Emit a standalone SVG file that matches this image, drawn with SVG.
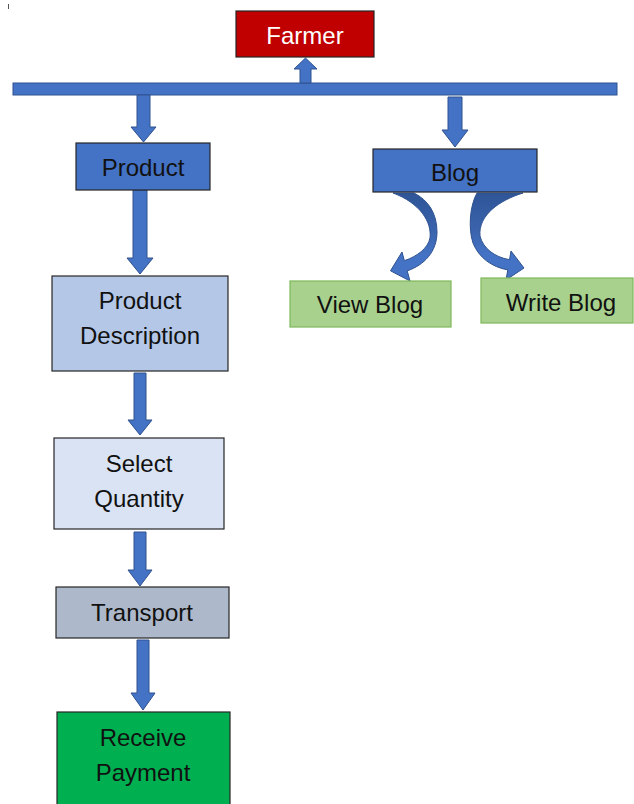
<svg xmlns="http://www.w3.org/2000/svg" width="634" height="804" viewBox="0 0 634 804">
  <style>
    .box { stroke: #262626; stroke-width: 1.2; }
    .leaf { stroke: #7FB85A; stroke-width: 1.2; }
    .lbl { font-family: "Liberation Sans", Arial, sans-serif; font-size: 24px; fill: #111; text-anchor: middle; dominant-baseline: central; }
    .arrow { fill: #4472C4; stroke: #2F528F; stroke-width: 1; }
  </style>
  <defs>
    <linearGradient id="ribbon" x1="0" y1="0" x2="0" y2="1">
      <stop offset="0" stop-color="#2F5597"/>
      <stop offset="0.45" stop-color="#3A64AE"/>
      <stop offset="0.7" stop-color="#4472C4"/>
      <stop offset="1" stop-color="#4472C4"/>
    </linearGradient>
  </defs>

  <rect width="634" height="804" fill="#fff"/>
  <rect x="8" y="4" width="1" height="5" fill="#555"/>

  <!-- connectors -->
  <g id="connectors">
    <!-- bus bar -->
    <rect class="arrow" x="13" y="83" width="604" height="12"/>
    <!-- bar up to Farmer -->
    <path class="arrow" d="M300,83 V69 H294 L305.5,58 L317,69 H311 V83 Z"/>
    <!-- bar down to Product -->
    <path class="arrow" d="M137,95 V127 H131 L143.5,142 L156,127 H150 V95 Z"/>
    <!-- bar down to Blog -->
    <path class="arrow" d="M448,97 V130 H442 L455,147 L468,130 H462 V97 Z"/>
    <!-- Product to Product Description -->
    <path class="arrow" d="M133,190 V258 H127 L140,274 L153,258 H147 V190 Z"/>
    <!-- Product Description to Select Quantity -->
    <path class="arrow" d="M134,373 V420 H128 L140,435 L152,420 H146 V373 Z"/>
    <!-- Select Quantity to Transport -->
    <path class="arrow" d="M134,532 V570 H128 L140,586 L152,570 H146 V532 Z"/>
    <!-- Transport to Receive Payment -->
    <path class="arrow" d="M137,640 V693 H131 L143,710 L155,693 H149 V640 Z"/>
    <!-- Blog to View Blog (curved) -->
    <path d="M393,193 L414,193 C428,200 437,213 437,232 C437,252 424,265 407.2,270.9 L410,281 L390.5,270.8 L402,252 L404.4,260.7 C418,256 428,248 430,238 C432,222 420,203 393,193 Z" fill="url(#ribbon)" stroke="#2F528F" stroke-width="1"/>
    <!-- Blog to Write Blog (curved) -->
    <path d="M523,193 L477,193 C470,205 468,228 473,243 C479,258 492,267 507.8,269.9 L506,280 L524,268 L511,251 L509.5,259.7 C494,257 483,248 480,236 C478,215 500,200 523,193 Z" fill="url(#ribbon)" stroke="#2F528F" stroke-width="1"/>
  </g>

  <g id="farmer">
    <rect class="box" x="236" y="11" width="138" height="46" fill="#C00000"/>
    <text class="lbl" x="305" y="35" style="fill:#fff">Farmer</text>
  </g>

  <g id="product">
    <rect class="box" x="76" y="143" width="134" height="47" fill="#4472C4"/>
    <text class="lbl" x="143" y="167">Product</text>
  </g>

  <g id="blog">
    <rect class="box" x="373" y="149" width="164" height="43" fill="#4472C4"/>
    <text class="lbl" x="455" y="172">Blog</text>
  </g>

  <g id="view-blog">
    <rect class="leaf" x="290" y="281" width="161" height="46" fill="#A9D18E"/>
    <text class="lbl" x="370" y="304">View Blog</text>
  </g>

  <g id="write-blog">
    <rect class="leaf" x="481" y="278" width="152" height="45" fill="#A9D18E"/>
    <text class="lbl" x="561" y="302">Write Blog</text>
  </g>

  <g id="product-description">
    <rect class="box" x="52" y="276" width="176" height="95" fill="#B4C7E7"/>
    <text class="lbl" x="140" y="300">Product</text>
    <text class="lbl" x="140" y="335">Description</text>
  </g>

  <g id="select-quantity">
    <rect class="box" x="54" y="438" width="170" height="91" fill="#DAE3F3"/>
    <text class="lbl" x="139" y="463">Select</text>
    <text class="lbl" x="139" y="498">Quantity</text>
  </g>

  <g id="transport">
    <rect class="box" x="56" y="587" width="173" height="51" fill="#ADB9CA"/>
    <text class="lbl" x="142" y="612">Transport</text>
  </g>

  <g id="receive-payment">
    <rect class="box" x="57" y="712" width="173" height="96" fill="#00B050"/>
    <text class="lbl" x="143" y="737">Receive</text>
    <text class="lbl" x="143" y="772">Payment</text>
  </g>
</svg>
